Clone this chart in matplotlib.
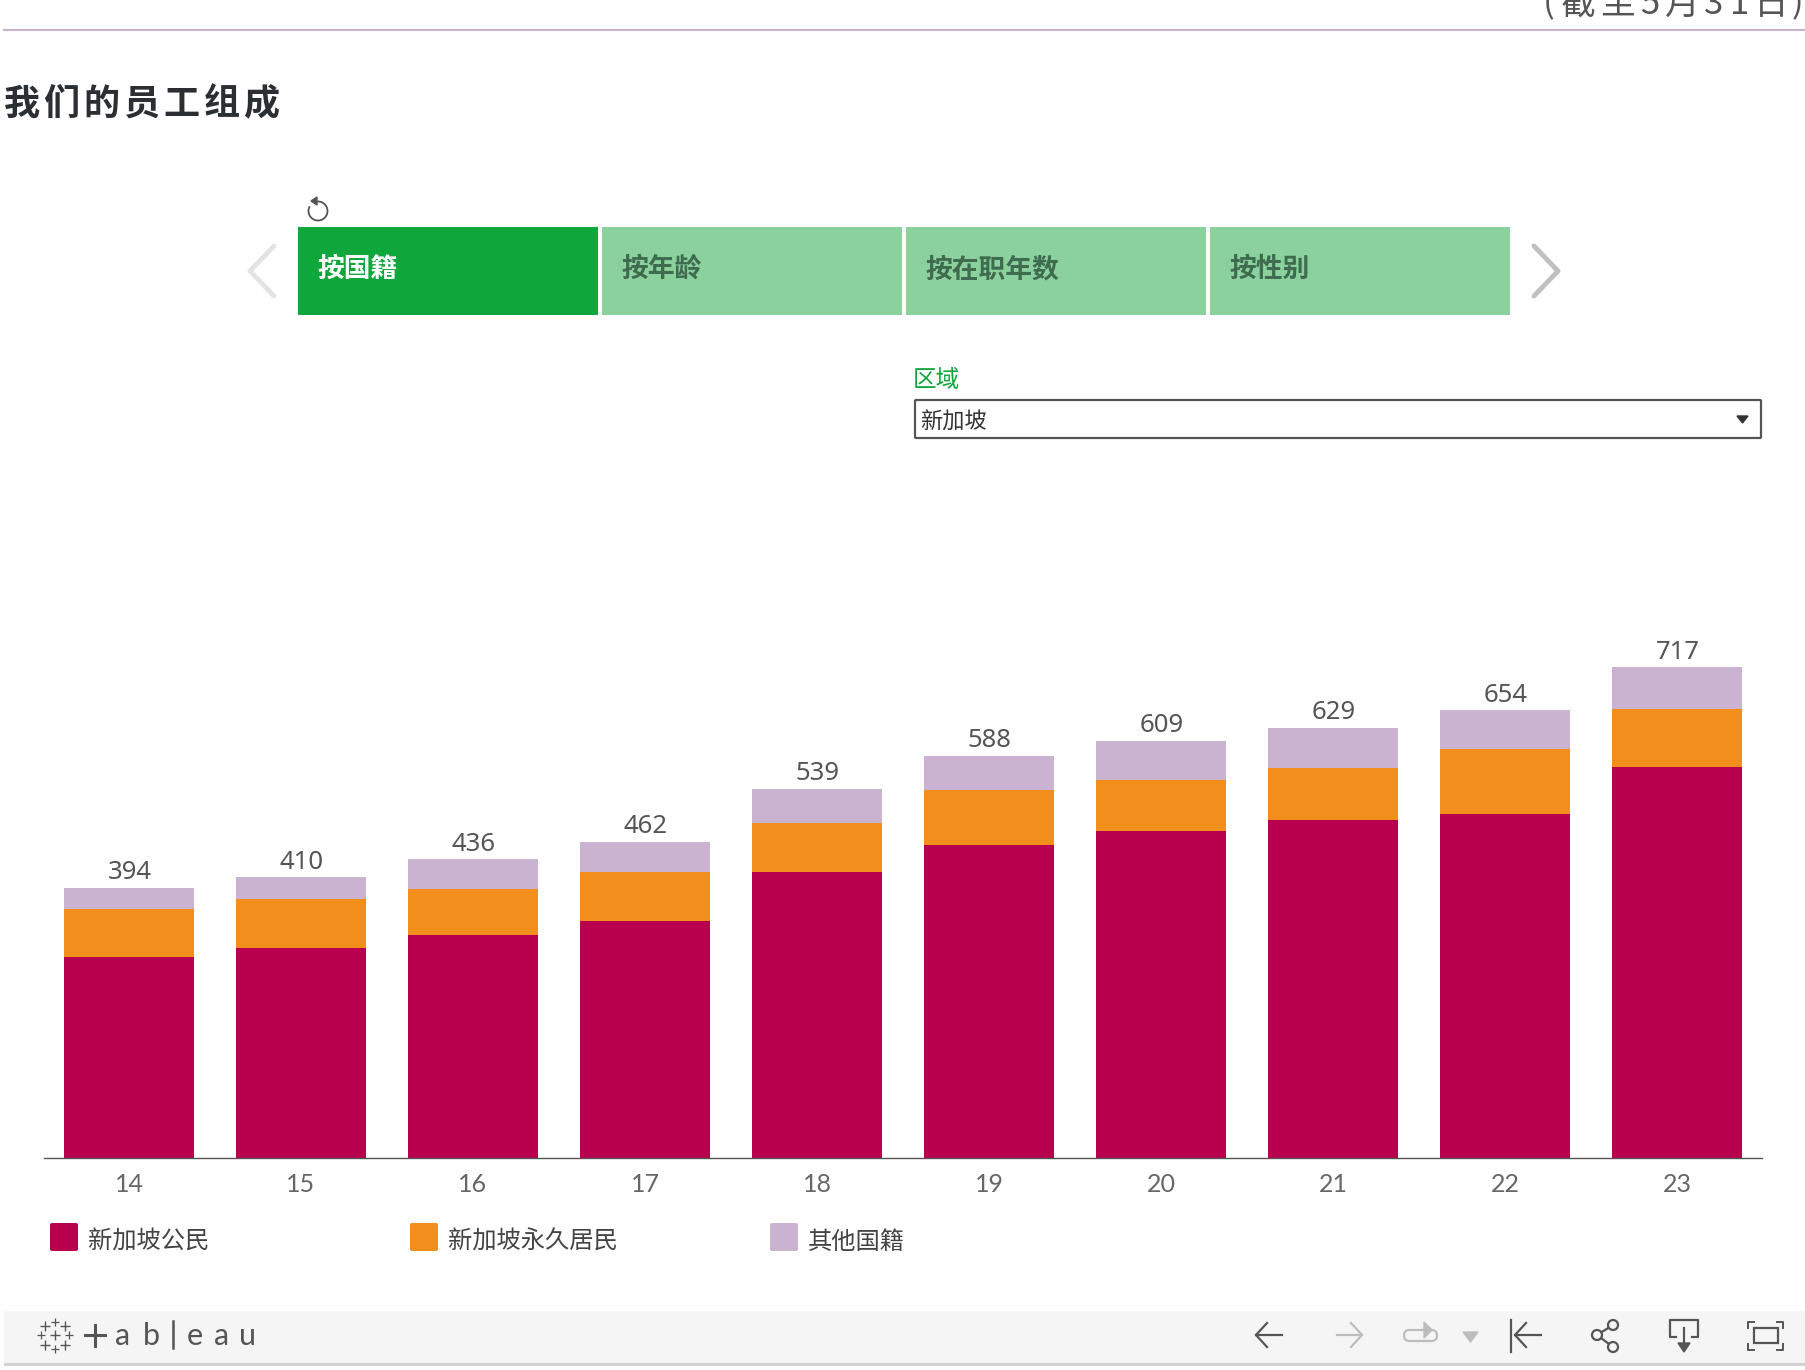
import numpy as np
from matplotlib import pyplot as plt
from matplotlib.patches import Rectangle, FancyBboxPatch, Arc, Circle, Polygon

plt.rcParams['font.family'] = ['Noto Sans CJK SC', 'DejaVu Sans']

years = ["14", "15", "16", "17", "18", "19", "20", "21", "22", "23"]
citizens = [293, 307, 326, 346, 418, 457, 477, 494, 503, 571]
permanent = [71, 71, 67, 71, 71, 81, 76, 76, 94, 85]
others = [30, 32, 43, 45, 50, 50, 56, 59, 57, 61]

series_names = ["新加坡公民", "新加坡永久居民", "其他国籍"]
tabs = ["按国籍", "按年龄", "按在职年数", "按性别"]

RED = "#b9004e"
ORANGE = "#f28e1c"
PURPLE = "#c9b3d0"
GREEN = "#0fa73b"
LIGHT_GREEN = "#8bd19d"

W, H = 1806, 1370
fig = plt.figure(figsize=(W / 100, H / 100), dpi=100, facecolor="white")

# page furniture, drawn in pixel coordinates
ui = fig.add_axes([0, 0, 1, 1])
ui.set_xlim(0, W)
ui.set_ylim(H, 0)
ui.axis("off")

ui.plot([4, W], [30, 30], color=PURPLE, lw=1.5)

top_chars = ["(", "截", "至", "5", "月", "3", "1", "日", ")"]
top_x = [1549, 1578, 1618, 1650, 1682, 1714, 1740, 1771, 1797]
for c, x in zip(top_chars, top_x):
    ui.text(x, 4, c, fontsize=25, color="#555555", ha="center", va="center")

for i, c in enumerate("我们的员工组成"):
    ui.text(21.5 + 40 * i, 104, c, fontsize=26, fontweight="bold", color="#2b2f33",
            ha="center", va="center")

# reset icon
ui.add_patch(Arc((318, 211), 19, 19, angle=0, theta1=-95, theta2=210, color="#555555", lw=1.3))
ui.add_patch(Polygon([[311, 201], [317, 197], [317, 205]], color="#555555"))

# tabs
tab_x = [298, 602, 906, 1210]
text_x = [317, 621, 925, 1229]
for i, name in enumerate(tabs):
    ui.add_patch(Rectangle((tab_x[i], 227), 300, 88, color=GREEN if i == 0 else LIGHT_GREEN, lw=0))
    ui.text(text_x[i], 269, name, fontsize=19.3, fontweight="bold",
            color="white" if i == 0 else "#3f6b4f", ha="left", va="center")

ui.plot([274, 250, 274], [246, 271, 296], color="#e2e3e3", lw=3.5, solid_capstyle="round")
ui.plot([1534, 1558, 1534], [246, 271, 296], color="#c0c0c0", lw=3.5, solid_capstyle="round")

# dropdown
ui.text(913, 380, "区域", fontsize=17, color=GREEN, ha="left", va="center")
ui.add_patch(FancyBboxPatch((915, 400), 846, 38, boxstyle="round,pad=0,rounding_size=1",
                            fc="white", ec="#555555", lw=1.6))
ui.text(920, 422, "新加坡", fontsize=16, color="#333333", ha="left", va="center")
ui.add_patch(Polygon([[1737, 416], [1748, 416], [1742.5, 423]], color="#333333"))

# legend
swatch_x = [50, 410, 770]
label_x = [88, 448, 808]
for i, name in enumerate(series_names):
    ui.add_patch(FancyBboxPatch((swatch_x[i], 1223), 28, 28, boxstyle="round,pad=0,rounding_size=2",
                                fc=[RED, ORANGE, PURPLE][i], ec="none"))
    ui.text(label_x[i], 1242, name, fontsize=17.5, color="#444444", ha="left", va="center")

# toolbar
ui.add_patch(Rectangle((4, 1311), W - 4, 52, color="#f5f5f5", lw=0))
ui.add_patch(Rectangle((4, 1363), W - 4, 2.5, color="#d2d2d2", lw=0))

# tableau logo
logo_big = [(55, 1335), (45, 1326), (65, 1326), (45, 1345), (65, 1345)]
logo_small = [(55, 1322), (55, 1349), (41, 1335), (69, 1335)]
ui.scatter(*zip(*logo_big), marker="+", s=60, color="#555555", linewidths=1.0)
ui.scatter(*zip(*logo_small), marker="+", s=35, color="#555555", linewidths=0.9)
ui.plot([85, 105], [1335, 1335], color="#555555", lw=2.2)
ui.plot([95, 95], [1325, 1346], color="#555555", lw=2.2)
ui.plot([173, 173], [1321, 1348], color="#555555", lw=1.8)
for c, x in zip(["a", "b", "e", "a", "u"], [123, 151, 195, 222, 248]):
    ui.text(x, 1336, c, fontsize=22, color="#555555", family="Lato", ha="center", va="center")

DARK = "#555555"
GREY = "#bdbdbd"
Y = 1339 - 4


def arrow(x0, x1, color, y=Y):
    ui.plot([x0, x1], [y, y], color=color, lw=1.6)
    d = 11 if x1 > x0 else -11
    ui.plot([x0 + d, x0, x0 + d], [y - 12, y, y + 12], color=color, lw=1.6)


arrow(1256, 1282, DARK)
arrow(1362, 1337, GREY)
# replay
ui.add_patch(FancyBboxPatch((1404, 1330), 33, 11, boxstyle="round,pad=0,rounding_size=5.5",
                            fc="none", ec=GREY, lw=1.6))
ui.add_patch(Polygon([[1424, 1322], [1432, 1330], [1424, 1338]], color=GREY))
ui.add_patch(Polygon([[1463, 1332], [1478, 1332], [1470.5, 1342]], color=GREY))
# back to start
ui.plot([1511, 1511], [1320, 1352], color=DARK, lw=1.6)
arrow(1515, 1541, DARK)
# share
share_pts = [(1613, 1325), (1597, 1335), (1613, 1347)]
ui.plot(*zip(*share_pts), color=DARK, lw=1.6)
for p in share_pts:
    ui.add_patch(Circle(p, 5, fc="#f5f5f5", ec=DARK, lw=1.6, zorder=3))
# download
ui.plot([1676, 1670, 1670, 1698, 1698, 1692], [1337, 1337, 1320, 1320, 1337, 1337], color=DARK, lw=1.6)
ui.plot([1684, 1684], [1328, 1346], color=DARK, lw=1.6)
ui.add_patch(Polygon([[1678, 1343], [1690, 1343], [1684, 1352]], color=DARK))
# fullscreen
ui.add_patch(Rectangle((1754, 1328), 24, 15, fc="none", ec=DARK, lw=1.6))
for cx, sx in [(1748, 1), (1783, -1)]:
    for cy, sy in [(1322, 1), (1350, -1)]:
        ui.plot([cx + 6 * sx, cx, cx], [cy, cy, cy + 6 * sy], color=DARK, lw=1.4)

# bar chart
PX_PER_UNIT = 0.6835
BASE_PX = 1157.5
TOP_PX = 600
PITCH = 172
left, right = 44, 1762

ax = fig.add_axes([left / W, 1 - BASE_PX / H, (right - left) / W, (BASE_PX - TOP_PX) / H])
ax.patch.set_alpha(0)

x = np.arange(len(years))
c = np.array(citizens)
p = np.array(permanent)
o = np.array(others)

ax.bar(x, c, width=0.756, color=RED)
ax.bar(x, p, width=0.756, bottom=c, color=ORANGE)
ax.bar(x, o, width=0.756, bottom=c + p, color=PURPLE)

totals = c + p + o
for xi, t in zip(x, totals):
    ax.annotate(str(t), (xi, t), xytext=(0.4, 6.3), textcoords="offset points", ha="center", va="baseline",
                fontsize=18.5, color="#555555", family="Noto Sans")

ax.set_xlim((left - 129) / PITCH, (right - 129) / PITCH)
ax.set_ylim(0, (BASE_PX - TOP_PX) / PX_PER_UNIT)
ax.set_yticks([])
ax.set_xticks(x)
ax.set_xticklabels(years, fontsize=18, color="#666666", family="Lato")
ax.tick_params(axis="x", length=0, pad=11.5)
for s in ["top", "left", "right"]:
    ax.spines[s].set_visible(False)
ax.spines["bottom"].set_color("#555555")
ax.spines["bottom"].set_linewidth(1)
ax.spines["bottom"].set_zorder(5)

fig.savefig("out.png", dpi=100)
